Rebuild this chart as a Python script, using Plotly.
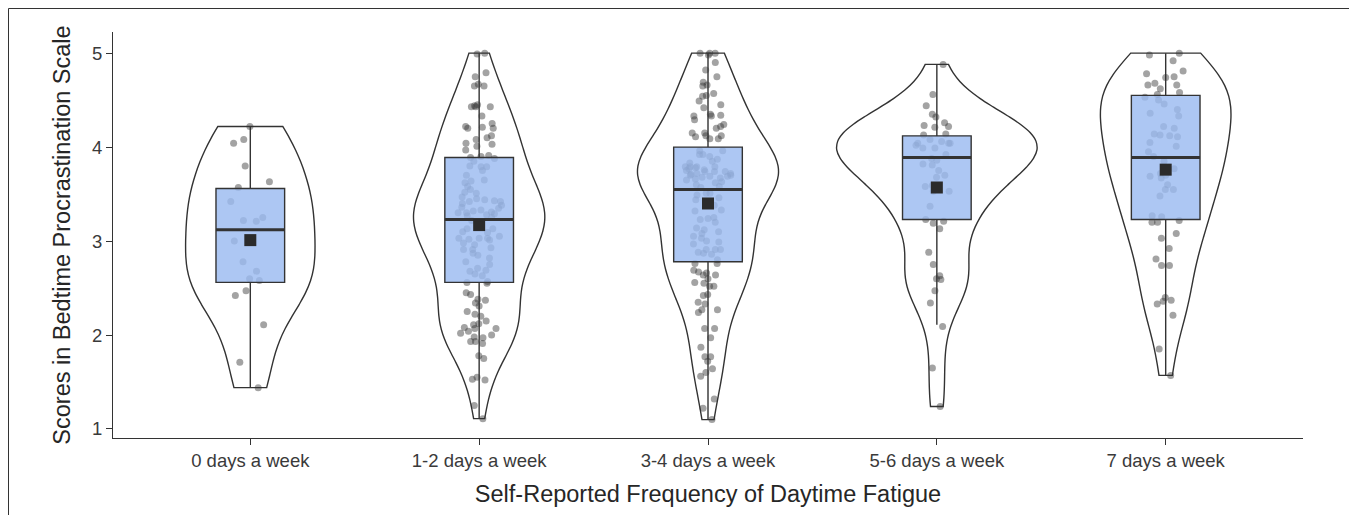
import numpy as np
import plotly.graph_objects as go

# ---------------- data ----------------
categories = ["0 days a week", "1-2 days a week", "3-4 days a week",
              "5-6 days a week", "7 days a week"]

scores_0 = [4.22, 4.08, 4.04, 3.80, 3.57, 3.63, 3.42, 3.25, 3.21, 3.22,
            3.00, 2.78, 2.68, 2.60, 2.58, 2.47, 2.42, 2.11, 1.71, 1.44]

scores_1_2 = [5.00, 4.99, 4.79, 4.75, 4.67, 4.65, 4.65, 4.45, 4.43, 4.43,
              4.43, 4.44, 4.33, 4.22, 4.20, 4.25, 4.21, 4.20, 4.12, 4.10,
              4.08, 4.03, 4.04, 4.01, 3.97, 3.91, 3.90, 3.89, 3.88,
              3.79, 3.79, 3.80, 3.65, 3.62, 3.64, 3.58, 3.52, 3.51, 3.47,
              3.42, 3.44, 3.43, 3.42, 3.32, 3.31, 3.27, 3.30, 3.30, 3.29,
              3.28, 3.13, 3.03, 3.03, 3.03, 3.02, 3.13, 3.09, 3.01, 2.96,
              2.91, 2.91, 2.93, 2.87, 2.82, 2.71, 2.75, 2.69, 2.65, 2.63,
              2.57, 3.35, 3.36, 3.38, 3.25, 3.22, 3.18, 3.15, 3.40, 3.45,
              3.55, 3.70, 3.75, 3.85, 3.10, 3.05, 2.98, 2.85, 2.78, 2.68,
              3.33, 2.56, 2.55, 2.43, 2.45, 2.34, 2.31, 2.37, 2.38, 2.22,
              2.25, 2.20, 2.15, 2.11, 2.12, 2.08, 2.07, 2.07, 2.02, 1.98,
              1.93, 2.00, 2.04, 1.97, 1.91, 1.93, 1.75, 1.78, 1.53, 1.52,
              1.55, 1.25, 1.11]

scores_3_4 = [5.00, 5.00, 5.00, 4.98, 4.90, 4.82, 4.75, 4.66, 4.69, 4.65,
              4.55, 4.57, 4.54, 4.49, 4.45, 4.42, 4.34, 4.29, 4.33, 4.35,
              4.33, 4.24, 4.22, 4.20, 4.15, 4.12, 4.12, 4.15, 4.11, 4.09,
              4.09, 3.96, 3.96, 3.92, 3.90, 3.92, 3.77, 3.74, 3.78, 3.79,
              3.79, 3.79, 3.79, 3.76, 3.67, 3.69, 3.62, 3.71, 3.65, 3.69,
              3.70, 3.51, 3.44, 3.51, 3.49, 3.46, 3.33, 3.23, 3.24, 3.25,
              3.32, 3.14, 3.12, 3.05, 3.10, 3.08, 2.99, 2.87, 2.91, 3.03,
              2.91, 2.91, 2.86, 2.80, 3.85, 3.83, 3.75, 3.74, 3.72, 3.70,
              3.66, 3.63, 3.60, 3.58, 3.57, 3.72, 3.38, 3.68, 3.20, 3.74,
              3.00, 2.97, 2.88, 3.87, 2.76, 2.76, 2.69, 2.64, 2.64, 2.67,
              2.66, 2.60, 2.52, 2.56, 2.55, 2.52, 2.43, 2.42, 2.33, 2.35,
              2.27, 2.27, 2.24, 2.07, 2.07, 1.97, 1.87, 1.77, 1.77, 1.72,
              1.64, 1.60, 1.56, 1.32, 1.22, 1.10]

scores_5_6 = [4.88, 4.56, 4.44, 4.35, 4.32, 4.26, 4.22, 4.21, 4.23, 4.14,
              4.13, 4.08, 4.06, 4.04, 4.04, 4.04, 4.02, 3.99, 3.99, 3.88,
              3.86, 3.82, 3.81, 3.70, 3.68, 3.59, 3.58, 3.53, 3.53, 3.37,
              3.92, 3.75, 3.21, 3.23, 3.19, 3.13,
              2.88, 2.75, 2.63, 2.60, 2.59, 2.47, 2.34, 2.09, 1.65, 1.24]

scores_7 = [5.00, 4.98, 4.92, 4.81, 4.78, 4.74, 4.75, 4.68, 4.66,
            4.66, 4.62, 4.58, 4.56, 4.53, 4.46, 4.36, 4.33, 4.20, 4.22,
            4.12, 4.14, 4.11, 4.13, 4.01, 3.90, 3.85, 3.77, 3.72, 3.67,
            3.70, 3.69, 3.55, 3.48, 3.55, 3.26, 3.27, 4.50, 4.40, 4.05,
            3.95, 3.60, 3.20, 3.20, 3.22, 3.08, 3.03, 2.92, 2.81, 2.74,
            2.74, 2.37, 2.36, 2.40, 2.33, 2.21, 1.85, 1.57]

# box-plot statistics and group means
q1_vals = [2.56, 2.56, 2.78, 3.23, 3.23]
median_vals = [3.12, 3.23, 3.55, 3.89, 3.89]
q3_vals = [3.56, 3.89, 4.00, 4.12, 4.55]
lower_whisker = [1.44, 1.11, 1.10, 2.11, 1.57]
upper_whisker = [4.22, 5.00, 5.00, 4.88, 5.00]
mean_vals = [3.01, 3.17, 3.40, 3.57, 3.76]

y_ticks = [1, 2, 3, 4, 5]

x_title = "Self-Reported Frequency of Daytime Fatigue"
y_title = "Scores in Bedtime Procrastination Scale"

groups = [scores_0, scores_1_2, scores_3_4, scores_5_6, scores_7]

# ---------------- styling ----------------
FONT = "Liberation Sans, Arial, Helvetica, sans-serif"
DARK = "#333333"
FIG_W, FIG_H = 1349, 507          # page body keeps an 8px margin
M_L, M_R, M_T, M_B = 105, 54, 24, 77
VIOLIN_MAX_W = 0.875              # equal-area scaling, widest violin
BOX_W = 0.3
JITTER_HALF = 0.1                 # half-width of point jitter (category units)


def nrd0(values):
    a = np.asarray(values, dtype=float)
    sd = a.std(ddof=1)
    q75, q25 = np.percentile(a, [75, 25])
    lo = min(sd, (q75 - q25) / 1.34)
    return 0.9 * lo * len(a) ** (-0.2)


def kde_peak(values, bw):
    a = np.asarray(values, dtype=float)
    grid = np.linspace(a.min(), a.max(), 512)
    z = (grid[:, None] - a[None, :]) / bw
    dens = np.exp(-0.5 * z ** 2).sum(axis=1) / (len(a) * bw * np.sqrt(2 * np.pi))
    return dens.max()


bandwidths = [nrd0(v) for v in groups]
peaks = np.array([kde_peak(v, b) for v, b in zip(groups, bandwidths)])
violin_widths = VIOLIN_MAX_W * peaks / peaks.max()   # equal-area scaling

fig = go.Figure()

for cat, vals, bw, vw in zip(categories, groups, bandwidths, violin_widths):
    fig.add_trace(go.Violin(
        x=[cat] * len(vals),
        y=vals,
        name=cat,
        orientation="v",
        spanmode="hard",
        bandwidth=bw,
        scalegroup=cat,
        scalemode="width",
        width=float(vw),
        fillcolor="white",
        line=dict(color=DARK, width=1.4),
        points="all",
        pointpos=0,
        jitter=float(min(1.0, 2 * JITTER_HALF / vw)),
        marker=dict(size=7, color="rgba(50,50,50,0.45)", line=dict(width=0)),
        box_visible=False,
        meanline_visible=False,
        hoverinfo="skip",
        showlegend=False,
    ))

fig.add_trace(go.Box(
    x=categories,
    q1=q1_vals,
    median=median_vals,
    q3=q3_vals,
    lowerfence=lower_whisker,
    upperfence=upper_whisker,
    orientation="v",
    width=BOX_W,
    whiskerwidth=0,
    fillcolor="rgba(155,187,240,0.82)",
    line=dict(color=DARK, width=1.4),
    boxpoints=False,
    hoverinfo="skip",
    showlegend=False,
))

# thicker median bar (ggplot-style fattened median)
plot_w_px = FIG_W - M_L - M_R
box_px = BOX_W * plot_w_px / 5.2
fig.add_trace(go.Scatter(
    x=categories,
    y=median_vals,
    mode="markers",
    marker=dict(symbol="line-ew", size=box_px / 1.4,
                line=dict(color=DARK, width=3)),
    hoverinfo="skip",
    showlegend=False,
))

# group means
fig.add_trace(go.Scatter(
    x=categories,
    y=mean_vals,
    mode="markers",
    marker=dict(symbol="square", size=12, color="#2b2b2b",
                line=dict(width=0)),
    hoverinfo="skip",
    showlegend=False,
))

plot_h_px = FIG_H - M_T - M_B
fig.update_layout(
    width=FIG_W,
    height=FIG_H,
    margin=dict(l=M_L, r=M_R, t=M_T, b=M_B),
    paper_bgcolor="white",
    plot_bgcolor="white",
    violinmode="overlay",
    boxmode="overlay",
    font=dict(family=FONT, color=DARK),
    shapes=[dict(
        type="rect", xref="paper", yref="paper",
        x0=(0.5 - M_L) / plot_w_px, x1=(FIG_W - 2 - M_L) / plot_w_px,
        y0=-0.3, y1=(FIG_H - M_B - 0.5) / plot_h_px,
        line=dict(color=DARK, width=1), fillcolor="rgba(0,0,0,0)",
        layer="below",
    )],
)

fig.update_xaxes(
    type="category",
    categoryorder="array",
    categoryarray=categories,
    range=[-0.6, 4.6],
    showline=True, linecolor=DARK, linewidth=1.2,
    ticks="outside", ticklen=6, tickcolor=DARK, tickwidth=1.2,
    tickfont=dict(size=18.5, color="#3a3a3a", family=FONT),
    showgrid=False, zeroline=False,
    title=dict(text=x_title, font=dict(size=23.5, color="#262626", family=FONT),
               standoff=15),
)

fig.update_yaxes(
    range=[0.904, 5.225],
    tickvals=y_ticks,
    showline=True, linecolor=DARK, linewidth=1.2,
    ticks="outside", ticklen=6, tickcolor=DARK, tickwidth=1.2,
    tickfont=dict(size=18.5, color="#3a3a3a", family=FONT),
    showgrid=False, zeroline=False,
    title=dict(text=y_title, font=dict(size=23.5, color="#262626", family=FONT),
               standoff=14),
)

fig.write_html("out.html")
